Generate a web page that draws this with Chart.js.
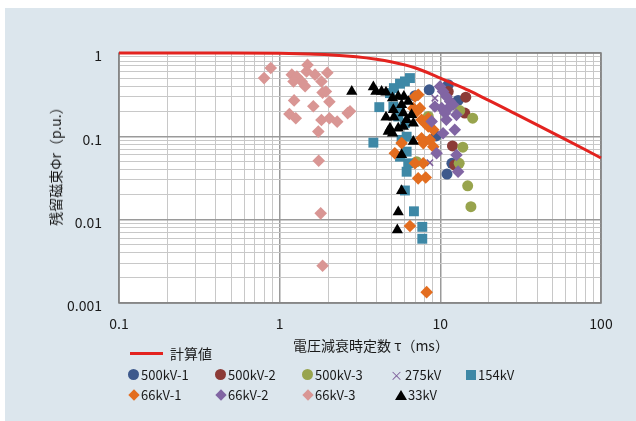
<!DOCTYPE html>
<html>
<head>
<meta charset="utf-8">
<script src="https://cdn.jsdelivr.net/npm/chart.js@4.4.1/dist/chart.umd.min.js"></script>
<style>
  html, body { margin: 0; padding: 0; background: #ffffff; }
  body { width: 636px; height: 421px; position: relative; overflow: hidden;
         font-family: "Noto Sans CJK JP", "Noto Sans", sans-serif; color: #1a1a1a; }
  #panel { position: absolute; left: 5px; top: 8px; width: 631px; height: 413px; background: #dce6ed; }
  #wrap { position: absolute; left: 0; top: 0; width: 636px; height: 421px; }
  .title-x { position: absolute; top: 335px; left: 371px; transform: translateX(-50%);
             font-size: 14px; line-height: 20px; white-space: nowrap; }
  .title-y { position: absolute; left: 55px; top: 163px; transform: translate(-50%, -50%) rotate(-90deg);
             font-size: 14px; line-height: 20px; white-space: nowrap; }
  .lg { position: absolute; display: flex; align-items: center; font-size: 13px; line-height: 16px; white-space: nowrap; }
  .mk { display: inline-block; width: 12px; height: 12px; position: relative; margin-right: 1px; }
  .mk i { position: absolute; display: block; font-style: normal; }
</style>
</head>
<body>
<div id="panel"></div>
<div id="wrap"><canvas id="c" width="636" height="421"></canvas></div>
<div class="title-x">電圧減衰時定数 τ（ms）</div>
<div class="title-y">残留磁束Φr（p.u.）</div>
<div id="legend"></div>
<script>
// Axis tick labels (decades only)
const xTickValues = [0.1, 1, 10, 100];
const xTickLabels = ['0.1', '1', '10', '100'];
const yTickValues = [0.001, 0.01, 0.1, 1];
const yTickLabels = ['0.001', '0.01', '0.1', '1'];

// Calculated curve
const calcTau = [0.1, 0.2, 0.5, 1, 1.5, 2, 3, 4, 5, 6, 7, 8, 10, 12, 15, 20, 25, 30, 40, 50, 60, 80, 100];
const calcPhi = [1, 1, 1, 0.99, 0.975, 0.955, 0.9, 0.84, 0.78, 0.72, 0.66, 0.6, 0.5, 0.43, 0.355, 0.27, 0.218, 0.182, 0.137, 0.11, 0.092, 0.069, 0.055];

// Measured residual flux per voltage class
const tau500kV1 = [6.95, 8.53, 9.39, 11.2, 12.9, 11.8, 11.0];
const phi500kV1 = [0.307, 0.362, 0.101, 0.416, 0.27, 0.0475, 0.0353];

const tau500kV2 = [11.2, 14.4, 14.2, 11.9, 12.3];
const phi500kV2 = [0.345, 0.295, 0.19, 0.0766, 0.0453];

const tau500kV3 = [13.2, 15.9, 13.8, 13.1, 14.8, 15.5, 8.41, 7.12];
const phi500kV3 = [0.204, 0.165, 0.074, 0.0475, 0.0255, 0.0143, 0.173, 0.0497];

const tau275kV = [9.25, 8.61];
const phi275kV = [0.287, 0.0483];

const tau154kV = [6.47, 6.02, 5.61, 5.14, 4.86, 4.17, 3.83, 5.10, 5.61, 5.47, 6.02, 6.17, 5.74, 6.17, 5.61, 6.31, 6.17, 6.02, 6.85, 7.72, 7.72];
const phi154kV = [0.50, 0.456, 0.428, 0.379, 0.33, 0.224, 0.084, 0.228, 0.208, 0.173, 0.144, 0.099, 0.0906, 0.0655, 0.057, 0.0475, 0.0376, 0.0224, 0.0126, 0.0082, 0.0059];

const tau66kV1 = [7.29, 6.95, 6.79, 7.12, 7.64, 8.02, 8.41, 9.04, 7.64, 7.83, 8.61, 9.04, 5.74, 5.21, 6.95, 7.83, 7.28, 8.11, 6.47, 8.22, 7.46, 8.41];
const phi66kV1 = [0.315, 0.30, 0.218, 0.199, 0.158, 0.144, 0.131, 0.12, 0.095, 0.083, 0.0906, 0.075, 0.083, 0.0626, 0.0475, 0.0475, 0.0313, 0.032, 0.0084, 0.00135, 0.218, 0.165];

const tau66kV2 = [9.95, 10.4, 10.9, 11.5, 11.2, 10.2, 9.25, 10.7, 10.9, 12.0, 12.6, 12.3, 8.83, 10.4, 9.48, 12.6, 12.9];
const phi66kV2 = [0.397, 0.346, 0.30, 0.262, 0.218, 0.218, 0.228, 0.19, 0.158, 0.239, 0.181, 0.12, 0.151, 0.109, 0.0626, 0.0598, 0.0377];

const tau66kV3 = [0.80, 0.88, 1.19, 1.28, 1.37, 1.22, 1.44, 1.49, 1.47, 1.66, 1.82, 1.98, 1.85, 1.94, 2.04, 1.23, 1.62, 1.15, 1.26, 1.82, 2.04, 2.28, 2.74, 2.65, 1.74, 1.75, 1.80, 1.85];
const phi66kV3 = [0.50, 0.66, 0.55, 0.52, 0.455, 0.455, 0.40, 0.72, 0.60, 0.55, 0.455, 0.58, 0.335, 0.345, 0.26, 0.27, 0.23, 0.185, 0.165, 0.157, 0.165, 0.15, 0.20, 0.19, 0.114, 0.051, 0.0119, 0.0028];

const tau33kV = [2.81, 3.83, 3.97, 4.31, 4.59, 5.04, 5.47, 5.93, 6.31, 5.74, 5.10, 4.59, 5.14, 5.88, 6.62, 6.17, 6.79, 4.86, 5.47, 5.88, 5.04, 4.74, 6.79, 5.74, 5.74, 5.47, 5.40];
const phi33kV = [0.346, 0.39, 0.346, 0.346, 0.338, 0.288, 0.30, 0.30, 0.262, 0.239, 0.208, 0.17, 0.17, 0.19, 0.181, 0.158, 0.144, 0.125, 0.125, 0.131, 0.109, 0.114, 0.0865, 0.060, 0.0222, 0.0124, 0.0075];

const seriesNames = ['500kV-1', '500kV-2', '500kV-3', '275kV', '154kV', '66kV-1', '66kV-2', '66kV-3', '33kV'];
const seriesTau = [tau500kV1, tau500kV2, tau500kV3, tau275kV, tau154kV, tau66kV1, tau66kV2, tau66kV3, tau33kV];
const seriesPhi = [phi500kV1, phi500kV2, phi500kV3, phi275kV, phi154kV, phi66kV1, phi66kV2, phi66kV3, phi33kV];

// Marker styling
const seriesColor = ['#3d598c', '#8c3b37', '#98a44d', '#7d5d9a', '#3e88a6', '#e36d1f', '#8165a3', '#d99694', '#000000'];
const seriesShape = ['circle', 'circle', 'circle', 'crossRot', 'rect', 'rectRot', 'rectRot', 'rectRot', 'triangle'];
const seriesRadius = [5.5, 5.5, 5.5, 4.5, 7, 6.3, 6.3, 6.3, 6.5];

const pts = (xs, ys) => xs.map((x, i) => ({ x: x, y: ys[i] }));
const ladder = (lo, hi) => {
  const out = [];
  for (let e = Math.round(Math.log10(lo)); e < Math.round(Math.log10(hi)); e++) {
    for (let m = 1; m < 10; m++) out.push(m * Math.pow(10, e));
  }
  out.push(hi);
  return out;
};
const isDecade = v => Math.abs(Math.log10(v) - Math.round(Math.log10(v))) < 1e-9;
const labelFor = (values, labels) => v => {
  const i = values.findIndex(t => Math.abs(t - v) / t < 1e-9);
  return i >= 0 ? labels[i] : '';
};

const datasets = [{
  type: 'line',
  label: '計算値',
  data: pts(calcTau, calcPhi),
  borderColor: '#e3231f',
  borderWidth: 3,
  pointRadius: 0,
  cubicInterpolationMode: 'monotone',
  fill: false,
  order: 0
}];
seriesNames.forEach((name, i) => {
  datasets.push({
    type: 'scatter',
    label: name,
    data: pts(seriesTau[i], seriesPhi[i]),
    pointStyle: seriesShape[i],
    pointRadius: seriesRadius[i],
    pointHoverRadius: seriesRadius[i],
    backgroundColor: seriesColor[i],
    borderColor: seriesColor[i],
    borderWidth: seriesShape[i] === 'crossRot' ? 1.5 : 0,
    order: seriesNames.length - i
  });
});

const plotFrame = {
  id: 'plotFrame',
  beforeDraw(chart) {
    const a = chart.chartArea, ctx = chart.ctx;
    ctx.save();
    ctx.fillStyle = '#ffffff';
    ctx.fillRect(a.left, a.top, a.right - a.left, a.bottom - a.top);
    ctx.restore();
  },
  beforeDatasetsDraw(chart) {
    const a = chart.chartArea, ctx = chart.ctx;
    ctx.save();
    ctx.strokeStyle = '#808080';
    ctx.lineWidth = 1.5;
    ctx.strokeRect(a.left, a.top, a.right - a.left, a.bottom - a.top);
    ctx.restore();
  }
};

const gridColor = c => (c.tick && isDecade(c.tick.value)) ? '#9a9a9a' : '#c8c8c8';
const gridWidth = c => (c.tick && isDecade(c.tick.value)) ? 1.5 : 1;
const tickFont = { family: '"Noto Sans CJK JP", "Noto Sans", sans-serif', size: 14 };

new Chart(document.getElementById('c'), {
  data: { datasets },
  options: {
    responsive: false,
    animation: false,
    clip: false,
    layout: { padding: { left: 0, top: 53, right: 35, bottom: 0 } },
    plugins: { legend: { display: false }, tooltip: { enabled: false } },
    scales: {
      x: {
        type: 'logarithmic', position: 'bottom', min: 0.1, max: 100,
        afterBuildTicks: s => { s.ticks = ladder(0.1, 100).map(v => ({ value: v })); },
        afterFit: s => { s.height = 118; },
        grid: { color: gridColor, lineWidth: gridWidth, drawTicks: false },
        border: { display: false },
        ticks: { autoSkip: false, maxRotation: 0, padding: 12, color: '#1a1a1a', font: tickFont,
                 callback: labelFor(xTickValues, xTickLabels) }
      },
      y: {
        type: 'logarithmic', position: 'left', min: 0.001, max: 1,
        afterBuildTicks: s => { s.ticks = ladder(0.001, 1).map(v => ({ value: v })); },
        afterFit: s => { s.width = 119; },
        grid: { color: gridColor, lineWidth: gridWidth, drawTicks: false },
        border: { display: false },
        ticks: { autoSkip: false, padding: 17, labelOffset: 3, color: '#1a1a1a', font: tickFont,
                 callback: labelFor(yTickValues, yTickLabels) }
      }
    }
  },
  plugins: [plotFrame]
});

// Legend entries, built from the same series lists
const legend = document.getElementById('legend');
function marker(shape, color) {
  const m = document.createElement('span');
  m.className = 'mk';
  const i = document.createElement('i');
  if (shape === 'circle') {
    Object.assign(i.style, { left: '0px', top: '0px', width: '11px', height: '11px', borderRadius: '50%', background: color });
  } else if (shape === 'rect') {
    Object.assign(i.style, { left: '1px', top: '1px', width: '10px', height: '10px', background: color });
  } else if (shape === 'rectRot') {
    Object.assign(i.style, { left: '2px', top: '2px', width: '8px', height: '8px', background: color, transform: 'rotate(45deg)' });
  } else if (shape === 'triangle') {
    Object.assign(i.style, { left: '0px', top: '1px', width: '0', height: '0', borderLeft: '6px solid transparent',
      borderRight: '6px solid transparent', borderBottom: '10px solid ' + color });
  } else {
    m.style.marginRight = '4px';
    i.textContent = '×';
    Object.assign(i.style, { left: '1px', top: '-3px', color: color, fontSize: '13px', lineHeight: '18px' });
  }
  m.appendChild(i);
  return m;
}
const legendPos = [[128, 375], [215, 375], [302, 375], [389, 375], [465, 375],
                   [128, 395], [215, 395], [302, 395], [395, 395]];
seriesNames.forEach((name, k) => {
  const d = document.createElement('div');
  d.className = 'lg';
  d.style.left = legendPos[k][0] + 'px';
  d.style.top = (legendPos[k][1] - 8) + 'px';
  d.appendChild(marker(seriesShape[k], seriesColor[k]));
  const t = document.createElement('span');
  t.textContent = name;
  d.appendChild(t);
  legend.appendChild(d);
});
const lineItem = document.createElement('div');
lineItem.className = 'lg';
lineItem.style.left = '130px';
lineItem.style.top = '344px';
lineItem.style.fontSize = '14px';
lineItem.style.lineHeight = '18px';
const sw = document.createElement('span');
Object.assign(sw.style, { display: 'inline-block', width: '33px', height: '3px', background: '#e3231f', marginRight: '7px' });
lineItem.appendChild(sw);
const lt = document.createElement('span');
lt.textContent = '計算値';
lineItem.appendChild(lt);
legend.appendChild(lineItem);
</script>
</body>
</html>
